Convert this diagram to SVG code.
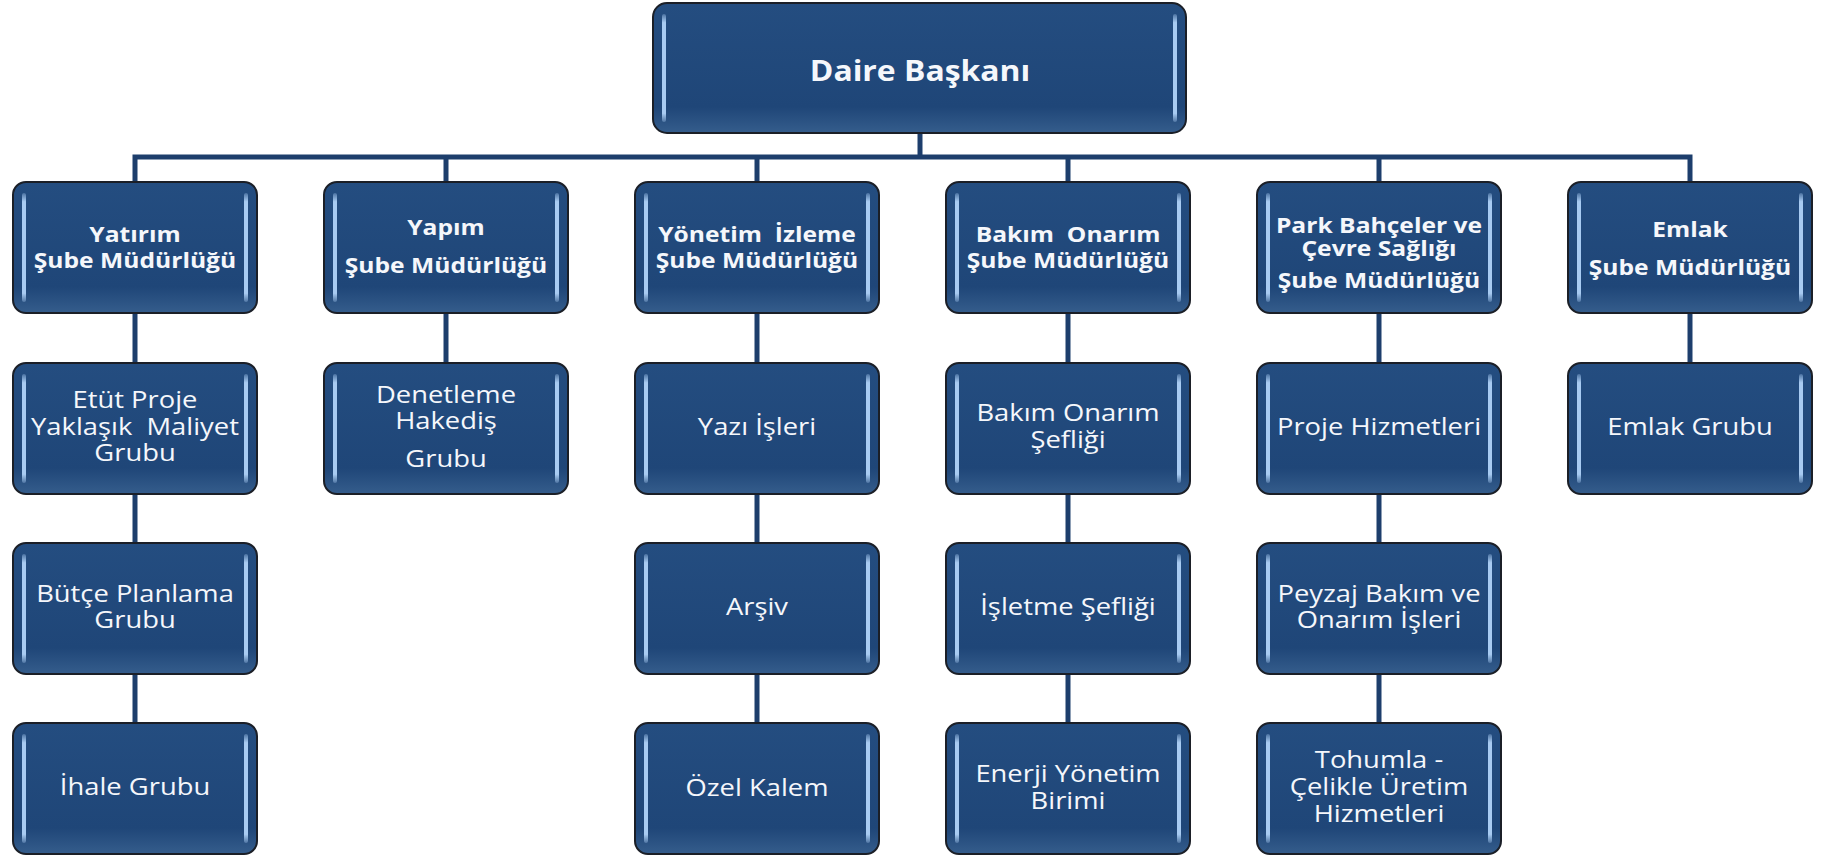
<svg xmlns="http://www.w3.org/2000/svg" xmlns:xlink="http://www.w3.org/1999/xlink" width="1821" height="856" viewBox="0 0 1821 856">
<defs>
<linearGradient id="boxFill" x1="0" y1="0" x2="0" y2="1">
<stop offset="0" stop-color="#244d80"/>
<stop offset="0.8" stop-color="#1f4678"/>
<stop offset="1" stop-color="#355d8c"/>
</linearGradient>
<linearGradient id="hlFill" x1="0" y1="0" x2="0" y2="1">
<stop offset="0" stop-color="#a8cbf2" stop-opacity="0.3"/>
<stop offset="0.08" stop-color="#a8cbf2"/>
<stop offset="0.92" stop-color="#a8cbf2"/>
<stop offset="1" stop-color="#a8cbf2" stop-opacity="0.3"/>
</linearGradient>
<g id="deco">
<rect class="box" x="0" y="0" width="244" height="131" rx="13"/>
<rect class="hl" x="9" y="11" width="4" height="109" rx="2"/>
<rect class="hl" x="231" y="11" width="4" height="109" rx="2"/>
</g>
</defs>
<style>
.box{fill:url(#boxFill);stroke:#1b1f27;stroke-width:2}
.hl{fill:url(#hlFill)}
.t{font-family:"Open Sans","Noto Sans","Liberation Sans",sans-serif;fill:#f5f7fb;text-anchor:middle;font-size:24px}
.b{font-weight:700;font-size:22px}
.top{font-weight:700;font-size:29px}
.conn{fill:none;stroke:#1d3e6c;stroke-width:5}
</style>
<rect width="1821" height="856" fill="#ffffff"/>
<g id="connectors" class="conn">
<path d="M920 133V157"/>
<path d="M135 182V157H1690V182"/>
<path d="M446 157V182M757 157V182M1068 157V182M1379 157V182"/>
<path d="M135 313V363M135 494V543M135 674V723"/>
<path d="M446 313V363"/>
<path d="M757 313V363M757 494V543M757 674V723"/>
<path d="M1068 313V363M1068 494V543M1068 674V723"/>
<path d="M1379 313V363M1379 494V543M1379 674V723"/>
<path d="M1690 313V363"/>
</g>
<g id="n-daire">
<rect class="box" x="653" y="3" width="533" height="130" rx="14"/>
<rect class="hl" x="662" y="14" width="4" height="108" rx="2"/>
<rect class="hl" x="1173" y="14" width="4" height="108" rx="2"/>
<text class="t top" transform="translate(920 0) scale(1.1 1)" x="0" y="81">Daire Başkanı</text>
</g>
<g id="n-yatirim" transform="translate(13 182)">
<use xlink:href="#deco"/>
<text class="t b" transform="translate(122 0) scale(1.12 1)"><tspan x="0" y="60">Yatırım</tspan><tspan x="0" y="86">Şube Müdürlüğü</tspan></text>
</g>
<g id="n-yapim" transform="translate(324 182)">
<use xlink:href="#deco"/>
<text class="t b" transform="translate(122 0) scale(1.12 1)"><tspan x="0" y="53">Yapım</tspan><tspan x="0" y="91">Şube Müdürlüğü</tspan></text>
</g>
<g id="n-yonetim" transform="translate(635 182)">
<use xlink:href="#deco"/>
<text class="t b" transform="translate(122 0) scale(1.12 1)"><tspan x="0" y="60">Yönetim&#160; İzleme</tspan><tspan x="0" y="86">Şube Müdürlüğü</tspan></text>
</g>
<g id="n-bakim" transform="translate(946 182)">
<use xlink:href="#deco"/>
<text class="t b" transform="translate(122 0) scale(1.12 1)"><tspan x="0" y="60">Bakım&#160; Onarım</tspan><tspan x="0" y="86">Şube Müdürlüğü</tspan></text>
</g>
<g id="n-park" transform="translate(1257 182)">
<use xlink:href="#deco"/>
<text class="t b" transform="translate(122 0) scale(1.12 1)"><tspan x="0" y="51">Park Bahçeler ve</tspan><tspan x="0" y="74">Çevre Sağlığı</tspan><tspan x="0" y="106">Şube Müdürlüğü</tspan></text>
</g>
<g id="n-emlak" transform="translate(1568 182)">
<use xlink:href="#deco"/>
<text class="t b" transform="translate(122 0) scale(1.12 1)"><tspan x="0" y="55">Emlak</tspan><tspan x="0" y="93">Şube Müdürlüğü</tspan></text>
</g>
<g id="n-etut" transform="translate(13 363)">
<use xlink:href="#deco"/>
<text class="t" transform="translate(122 0) scale(1.14 1)"><tspan x="0" y="45">Etüt Proje</tspan><tspan x="0" y="72">Yaklaşık&#160; Maliyet</tspan><tspan x="0" y="98">Grubu</tspan></text>
</g>
<g id="n-denetleme" transform="translate(324 363)">
<use xlink:href="#deco"/>
<text class="t" transform="translate(122 0) scale(1.14 1)"><tspan x="0" y="40">Denetleme</tspan><tspan x="0" y="66">Hakediş</tspan><tspan x="0" y="104">Grubu</tspan></text>
</g>
<g id="n-yazi" transform="translate(635 363)">
<use xlink:href="#deco"/>
<text class="t" transform="translate(122 0) scale(1.14 1)"><tspan x="0" y="72">Yazı İşleri</tspan></text>
</g>
<g id="n-bakim-sef" transform="translate(946 363)">
<use xlink:href="#deco"/>
<text class="t" transform="translate(122 0) scale(1.14 1)"><tspan x="0" y="58">Bakım Onarım</tspan><tspan x="0" y="85">Şefliği</tspan></text>
</g>
<g id="n-proje" transform="translate(1257 363)">
<use xlink:href="#deco"/>
<text class="t" transform="translate(122 0) scale(1.14 1)"><tspan x="0" y="72">Proje Hizmetleri</tspan></text>
</g>
<g id="n-emlak-grubu" transform="translate(1568 363)">
<use xlink:href="#deco"/>
<text class="t" transform="translate(122 0) scale(1.14 1)"><tspan x="0" y="72">Emlak Grubu</tspan></text>
</g>
<g id="n-butce" transform="translate(13 543)">
<use xlink:href="#deco"/>
<text class="t" transform="translate(122 0) scale(1.14 1)"><tspan x="0" y="59">Bütçe Planlama</tspan><tspan x="0" y="85">Grubu</tspan></text>
</g>
<g id="n-arsiv" transform="translate(635 543)">
<use xlink:href="#deco"/>
<text class="t" transform="translate(122 0) scale(1.14 1)"><tspan x="0" y="72">Arşiv</tspan></text>
</g>
<g id="n-isletme" transform="translate(946 543)">
<use xlink:href="#deco"/>
<text class="t" transform="translate(122 0) scale(1.14 1)"><tspan x="0" y="72">İşletme Şefliği</tspan></text>
</g>
<g id="n-peyzaj" transform="translate(1257 543)">
<use xlink:href="#deco"/>
<text class="t" transform="translate(122 0) scale(1.14 1)"><tspan x="0" y="59">Peyzaj Bakım ve</tspan><tspan x="0" y="85">Onarım İşleri</tspan></text>
</g>
<g id="n-ihale" transform="translate(13 723)">
<use xlink:href="#deco"/>
<text class="t" transform="translate(122 0) scale(1.14 1)"><tspan x="0" y="72">İhale Grubu</tspan></text>
</g>
<g id="n-ozel" transform="translate(635 723)">
<use xlink:href="#deco"/>
<text class="t" transform="translate(122 0) scale(1.14 1)"><tspan x="0" y="73">Özel Kalem</tspan></text>
</g>
<g id="n-enerji" transform="translate(946 723)">
<use xlink:href="#deco"/>
<text class="t" transform="translate(122 0) scale(1.14 1)"><tspan x="0" y="59">Enerji Yönetim</tspan><tspan x="0" y="86">Birimi</tspan></text>
</g>
<g id="n-tohumla" transform="translate(1257 723)">
<use xlink:href="#deco"/>
<text class="t" transform="translate(122 0) scale(1.14 1)"><tspan x="0" y="45">Tohumla -</tspan><tspan x="0" y="72">Çelikle Üretim</tspan><tspan x="0" y="99">Hizmetleri</tspan></text>
</g>
</svg>
